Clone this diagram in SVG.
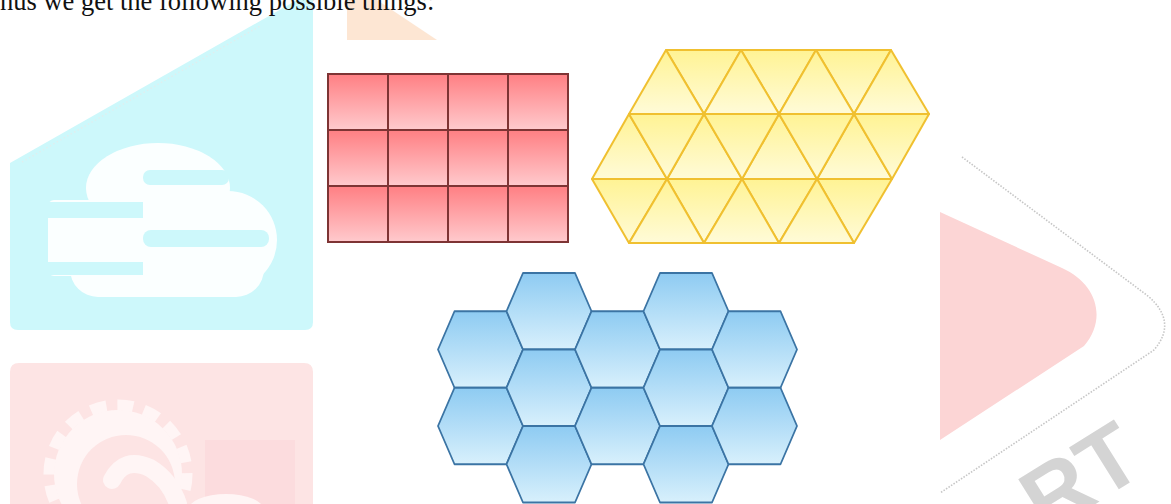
<svg xmlns="http://www.w3.org/2000/svg" xmlns:xlink="http://www.w3.org/1999/xlink" width="1171" height="504" viewBox="0 0 1171 504">
  <style>
    .cell { stroke: #7e3434; stroke-width: 2; }
    .tri { fill: url(#gYellow); stroke: #f0c030; stroke-width: 2; stroke-linejoin: round; }
    .hex { fill: url(#gBlue); stroke: #3b74a4; stroke-width: 1.8; stroke-linejoin: round; }
    .caption { font-family: "Liberation Serif", "Times New Roman", serif; font-size: 26.5px; fill: #111; }
    .wm { font-family: "Liberation Sans", Arial, sans-serif; font-weight: bold; font-size: 90px; fill: #d4d4d4; }
  </style>
  <defs>
    <linearGradient id="gRed" x1="0" y1="0" x2="0" y2="1">
      <stop offset="0" stop-color="#ff7f83"/>
      <stop offset="1" stop-color="#ffcacd"/>
    </linearGradient>
    <linearGradient id="gYellow" x1="0" y1="0" x2="0" y2="1">
      <stop offset="0" stop-color="#fff394"/>
      <stop offset="1" stop-color="#fffbd8"/>
    </linearGradient>
    <linearGradient id="gBlue" x1="0" y1="0" x2="0" y2="1">
      <stop offset="0" stop-color="#8ecbf2"/>
      <stop offset="1" stop-color="#d8f0fc"/>
    </linearGradient>
    <rect id="cellShape" width="60" height="56"/>
    <path id="hexShape" d="M0,38.25 L16.5,0 L68.5,0 L85,38.25 L68.5,76.5 L16.5,76.5 Z"/>
  </defs>

  <rect width="1171" height="504" fill="#ffffff"/>

  <!-- background watermark -->
  <g id="watermark">
    <path d="M10,163 L297,0 L313,0 L313,322 Q313,330 305,330 L18,330 Q10,330 10,322 Z" fill="#cdf8fb"/>
    <line x1="22" y1="162" x2="260" y2="26" stroke="#e0eeee" stroke-width="1.5" stroke-dasharray="1.5 2.5"/>
    <g id="cloud" fill="#fbffff">
      <ellipse cx="158" cy="188" rx="72" ry="45"/>
      <circle cx="228" cy="240" r="49"/>
      <rect x="70" y="236" width="194" height="61" rx="28"/>
      <rect x="48" y="200" width="100" height="76" rx="6"/>
    </g>
    <g fill="#cdf8fb">
      <rect x="143" y="170" width="86" height="15" rx="7"/>
      <rect x="44" y="202" width="99" height="16"/>
      <rect x="143" y="230" width="126" height="17" rx="8"/>
      <rect x="44" y="262" width="99" height="13"/>
    </g>
    <path d="M10,372 Q10,363 19,363 L304,363 Q313,363 313,372 L313,504 L10,504 Z" fill="#fde4e4"/>
    <rect x="205" y="440" width="90" height="64" fill="#fcdcde"/>
    <g id="gear">
      <circle cx="118" cy="474" r="69" fill="none" stroke="#fff5f5" stroke-width="11" stroke-dasharray="16 11"/>
      <circle cx="118" cy="474" r="64" fill="#fff5f5"/>
      <circle cx="126" cy="484" r="49" fill="#fde4e4"/>
      <path d="M112,480 Q124,456 150,468 Q170,480 178,504" fill="none" stroke="#fff5f5" stroke-width="18" stroke-linecap="round"/>
      <ellipse cx="226" cy="510" rx="38" ry="16" fill="#fff5f5"/>
    </g>
    <path d="M347,0 L377,0 L440,42 L347,42 Z" fill="#fde6d3"/>
    <path d="M940,212 L1062,268 C1096,283 1108,318 1084,346 L940,440 Z" fill="#fcd5d5"/>
    <path d="M962,157 L1148,296 Q1178,322 1154,350 L940,493" fill="none" stroke="#c6c6c6" stroke-width="1.6" stroke-dasharray="1.5 1.5"/>
    <text class="wm" transform="translate(1046,535) rotate(-32)">RT</text>
  </g>

  <rect x="320" y="40" width="620" height="464" fill="#ffffff"/>

  <text class="caption" x="0" y="10">hus we get the following possible things:</text>

  <!-- square grid -->
  <g id="squares" fill="url(#gRed)">
    <use xlink:href="#cellShape" class="cell" x="328" y="74"/>
    <use xlink:href="#cellShape" class="cell" x="388" y="74"/>
    <use xlink:href="#cellShape" class="cell" x="448" y="74"/>
    <use xlink:href="#cellShape" class="cell" x="508" y="74"/>
    <use xlink:href="#cellShape" class="cell" x="328" y="130"/>
    <use xlink:href="#cellShape" class="cell" x="388" y="130"/>
    <use xlink:href="#cellShape" class="cell" x="448" y="130"/>
    <use xlink:href="#cellShape" class="cell" x="508" y="130"/>
    <use xlink:href="#cellShape" class="cell" x="328" y="186"/>
    <use xlink:href="#cellShape" class="cell" x="388" y="186"/>
    <use xlink:href="#cellShape" class="cell" x="448" y="186"/>
    <use xlink:href="#cellShape" class="cell" x="508" y="186"/>
  </g>

  <!-- triangle tiling -->
  <g id="triangles">
    <polygon class="tri" points="666,50 741,50 704,114"/>
    <polygon class="tri" points="741,50 816,50 779,114"/>
    <polygon class="tri" points="816,50 891,50 854,114"/>
    <polygon class="tri" points="629,114 704,114 666,50"/>
    <polygon class="tri" points="704,114 779,114 741,50"/>
    <polygon class="tri" points="779,114 854,114 816,50"/>
    <polygon class="tri" points="854,114 929,114 891,50"/>
    <polygon class="tri" points="592,179 667,179 629,114"/>
    <polygon class="tri" points="667,179 742,179 704,114"/>
    <polygon class="tri" points="742,179 817,179 779,114"/>
    <polygon class="tri" points="817,179 892,179 854,114"/>
    <polygon class="tri" points="629,114 704,114 667,179"/>
    <polygon class="tri" points="704,114 779,114 742,179"/>
    <polygon class="tri" points="779,114 854,114 817,179"/>
    <polygon class="tri" points="854,114 929,114 892,179"/>
    <polygon class="tri" points="592,179 667,179 629,243"/>
    <polygon class="tri" points="667,179 742,179 704,243"/>
    <polygon class="tri" points="742,179 817,179 779,243"/>
    <polygon class="tri" points="817,179 892,179 854,243"/>
    <polygon class="tri" points="629,243 704,243 667,179"/>
    <polygon class="tri" points="704,243 779,243 742,179"/>
    <polygon class="tri" points="779,243 854,243 817,179"/>
  </g>

  <!-- hexagon tiling -->
  <g id="hexagons">
    <use xlink:href="#hexShape" class="hex" x="438" y="311.25"/>
    <use xlink:href="#hexShape" class="hex" x="438" y="387.75"/>
    <use xlink:href="#hexShape" class="hex" x="506.5" y="273"/>
    <use xlink:href="#hexShape" class="hex" x="506.5" y="349.5"/>
    <use xlink:href="#hexShape" class="hex" x="506.5" y="426"/>
    <use xlink:href="#hexShape" class="hex" x="575" y="311.25"/>
    <use xlink:href="#hexShape" class="hex" x="575" y="387.75"/>
    <use xlink:href="#hexShape" class="hex" x="643.5" y="273"/>
    <use xlink:href="#hexShape" class="hex" x="643.5" y="349.5"/>
    <use xlink:href="#hexShape" class="hex" x="643.5" y="426"/>
    <use xlink:href="#hexShape" class="hex" x="712" y="311.25"/>
    <use xlink:href="#hexShape" class="hex" x="712" y="387.75"/>
  </g>
</svg>
